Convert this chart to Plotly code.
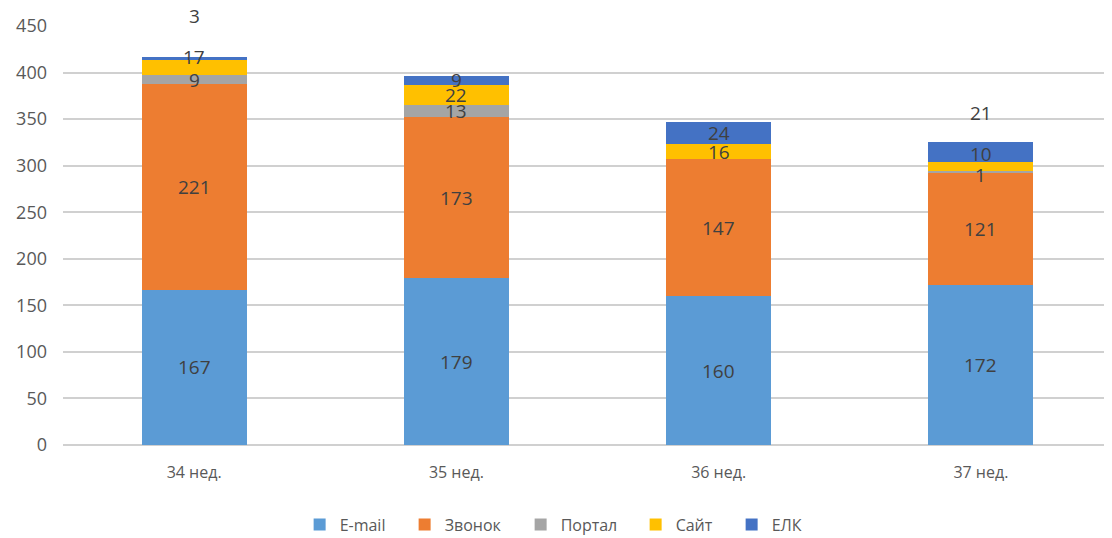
import plotly.graph_objects as go

# weeks and ticket counts per channel
weeks = ["34 нед.", "35 нед.", "36 нед.", "37 нед."]
email = [167, 179, 160, 172]
zvonok = [221, 173, 147, 121]
portal = [9, 13, None, 1]
sait = [17, 22, 16, 10]
elk = [3, 9, 24, 21]

series = [("E-mail", email, "#5B9BD5"), ("Звонок", zvonok, "#ED7D31"),
          ("Портал", portal, "#A5A5A5"), ("Сайт", sait, "#FFC000"),
          ("ЕЛК", elk, "#4472C4")]

# some labels were dragged by hand in the original (pixels)
label_shift = {(0, "Сайт"): 10, (0, "ЕЛК"): 42, (3, "Портал"): -3,
               (3, "Сайт"): 13, (3, "ЕЛК"): 39}
# legend entry widths so the items sit like in the original
leg_w = {"E-mail": 60, "Звонок": 71, "Портал": 70, "Сайт": 51, "ЕЛК": 40}

fig = go.Figure()
annotations = []
base = [0] * len(weeks)
for name, vals, col in series:
    fig.add_trace(go.Bar(x=weeks, y=vals, name=name, legendwidth=leg_w[name],
                         marker=dict(color=col, line=dict(width=0))))
    for i, v in enumerate(vals):
        if v is None:
            continue
        annotations.append(dict(x=weeks[i], y=base[i] + v / 2, text=str(v), showarrow=False,
                                yshift=label_shift.get((i, name), 0),
                                font=dict(family="Open Sans", size=19, color="#404040")))
        base[i] += v

# page body has an 8px margin, so the figure is shrunk by that much
fig.update_layout(barmode="stack", bargap=0.6, width=1104, height=530,
                  margin=dict(l=55, r=0, t=18, b=93, autoexpand=False),
                  plot_bgcolor="white", paper_bgcolor="white",
                  font=dict(family="Open Sans", size=16, color="#595959"),
                  annotations=annotations,
                  legend=dict(orientation="h", x=0.472, xanchor="center", y=-0.19, yanchor="middle",
                              font=dict(size=16, color="#595959"), traceorder="normal",
                              tracegroupgap=0))
fig.update_yaxes(range=[0, 450], dtick=50, showgrid=True, gridcolor="#D0D0D0", gridwidth=2,
                 zeroline=True, zerolinecolor="#D0D0D0", zerolinewidth=2,
                 ticklabelstandoff=15, tickfont=dict(size=18, color="#595959"))
fig.update_xaxes(showgrid=False, showline=False, ticklabelstandoff=16,
                 tickfont=dict(size=16, color="#595959"))

fig.write_html("out.html")
